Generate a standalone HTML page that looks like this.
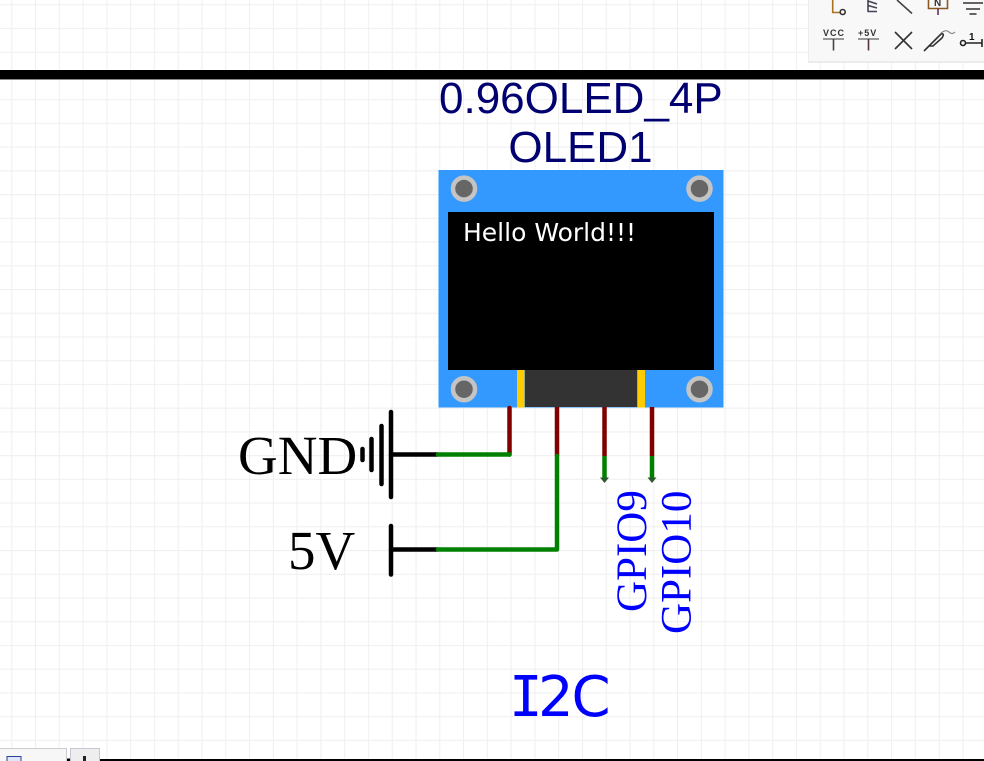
<!DOCTYPE html>
<html><head><meta charset="utf-8"><style>
html,body{margin:0;padding:0;background:#fff;width:984px;height:761px;overflow:hidden}
svg{display:block}
</style></head><body>
<svg xmlns="http://www.w3.org/2000/svg" width="984" height="761" viewBox="0 0 984 761">
<defs><pattern id="g" x="11.2" y="4.2" width="23.78" height="23.73" patternUnits="userSpaceOnUse">
<path d="M0.5 0V23.73M0 0.5H23.78" stroke="#f0f0f0" stroke-width="1.2" fill="none"/></pattern></defs>
<rect width="984" height="761" fill="#fff"/>
<rect width="984" height="761" fill="url(#g)"/>
<rect x="0" y="70" width="984" height="9" fill="#000"/>
<rect x="0" y="79" width="984" height="1" fill="#888"/>

<!-- toolbar -->
<rect x="808" y="-10" width="186" height="73" fill="#ececec"/>
<rect x="809" y="-10" width="185" height="71" fill="#f8f8f8"/>
<g fill="none" stroke-width="1.6">
<path d="M832.700 0V12.500H840" stroke="#a8701f"/><circle cx="842.700" cy="12" r="2.500" stroke="#333"/>
<path d="M868 0V12M868 1L877 4M868 5.500L877 8M868 11.500H877" stroke="#445"/>
<path d="M897 0L912 13.500" stroke="#444"/>
<path d="M928.500 0V8.500H947.500V0" stroke="#8a5a20"/><path d="M938 8.500V15" stroke="#635"/>
<path d="M963 3H983M966 9H980M969.500 14H976.500" stroke="#333"/>
<path d="M823 39H844" stroke="#999" stroke-width="2"/><path d="M833.500 39V50.500" stroke="#444"/>
<path d="M858 39H879" stroke="#999" stroke-width="2"/><path d="M868.500 39V50.500" stroke="#534"/>
<path d="M895 32L912 49M912 32L895 49" stroke="#333"/>
<path d="M924 51L931 44L941 34Q945 33 942 38L933 46L929 46Z" stroke="#333"/>
<path d="M941 33Q946 29 949 32T955 32" stroke="#777" stroke-width="1"/>
<circle cx="963" cy="43" r="2.500" stroke="#222"/><path d="M965.500 43H982M982 39V47" stroke="#222"/>
</g>
<text x="823" y="36" font-family="Liberation Sans, sans-serif" font-weight="bold" font-size="9" letter-spacing="1" fill="#333">VCC</text>
<text x="858" y="36" font-family="Liberation Sans, sans-serif" font-weight="bold" font-size="9" letter-spacing="1" fill="#333">+5V</text>
<text x="934" y="6" font-family="Liberation Sans, sans-serif" font-weight="bold" font-size="10" fill="#333">N</text>
<text x="969" y="40" font-family="Liberation Sans, sans-serif" font-weight="bold" font-size="10" fill="#111">1</text>

<!-- titles -->
<text x="439" y="113" font-family="Liberation Sans, sans-serif" font-size="44" fill="#000070">0.96OLED_4P</text>
<text x="580.500" y="162" text-anchor="middle" font-family="Liberation Sans, sans-serif" font-size="44" fill="#000070">OLED1</text>

<!-- board -->
<rect x="438.500" y="170" width="285" height="237.500" fill="#3399ff"/>
<rect x="448" y="212" width="266" height="158" fill="#000"/>
<rect x="517" y="370" width="7.500" height="37.500" fill="#ffcc00"/>
<rect x="637.500" y="370" width="7.500" height="37.500" fill="#ffcc00"/>
<rect x="525" y="370" width="112" height="37" fill="#333"/>
<g fill="#666" stroke="#c4c4c4" stroke-width="4.500">
<circle cx="464" cy="188.600" r="11"/><circle cx="699.500" cy="188.600" r="11"/>
<circle cx="464" cy="389.200" r="11"/><circle cx="699.500" cy="389.200" r="11"/>
</g>
<text x="463" y="241" font-family="DejaVu Sans, sans-serif" font-size="25" fill="#fff">Hello World!!!</text>

<!-- black symbols -->
<g stroke="#000" stroke-width="4.500" stroke-linecap="round" fill="none">
<path d="M391 412V497"/><path d="M381.500 426V484"/><path d="M371.500 439V470"/><path d="M362.500 449V460"/>
<path d="M391 454.500H437"/>
<path d="M391 526V574.500"/><path d="M391 549.500H437"/>
</g>
<!-- wires -->
<g stroke="#800000" stroke-width="4.500" stroke-linecap="round" fill="none">
<path d="M509.500 408V454.500"/>
</g>
<path d="M557 407V456M604.500 407V456M652 407V456" stroke="#800000" stroke-width="4.500" fill="none"/>
<path d="M438 454.500H509.500" stroke="#008000" stroke-width="4.500" stroke-linecap="round" fill="none"/>
<path d="M557 456V549.500H438" stroke="#008000" stroke-width="4.500" stroke-linejoin="round" stroke-linecap="round" fill="none"/>
<path d="M604.500 456V478M652 456V478" stroke="#008000" stroke-width="4.500" fill="none"/>
<path d="M600 477.500H609L604.500 483ZM647.500 477.500H656.500L652 483Z" fill="#2a5a2a"/>

<!-- labels -->
<text x="238" y="474" font-family="Liberation Serif, serif" font-size="55" fill="#000">GND</text>
<text x="288" y="569" font-family="Liberation Serif, serif" font-size="55" fill="#000">5V</text>
<text transform="translate(646 612) rotate(-90)" font-family="Liberation Serif, serif" font-size="43" fill="#0000ff">GPIO9</text>
<text transform="translate(690.500 634) rotate(-90)" font-family="Liberation Serif, serif" font-size="43" fill="#0000ff">GPIO10</text>
<text y="716" font-size="56" fill="#0000ff" font-family="DejaVu Sans, sans-serif"><tspan x="509" font-family="DejaVu Sans Mono, monospace">I</tspan><tspan x="538">2</tspan><tspan x="571.500">C</tspan></text>

<!-- bottom -->
<rect x="100" y="759" width="884" height="2" fill="#000"/>
<rect x="67" y="758.500" width="3" height="3" fill="#000"/>
<rect x="-2" y="748.500" width="68.500" height="16" fill="#f7f7f7" stroke="#ccc"/>
<rect x="70.500" y="748.500" width="29" height="16" fill="#eee" stroke="#c4c8d4"/>
<rect x="83" y="756" width="3" height="5" fill="#222"/>
<rect x="7" y="756.500" width="14" height="5" fill="#dfe6f5" stroke="#2a3f9a"/>
</svg>
</body></html>
